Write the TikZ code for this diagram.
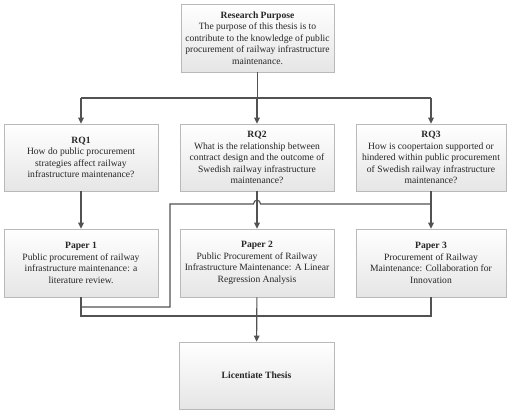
\documentclass[tikz,border=0pt]{standalone}
\usepackage{fontspec}
\setmainfont{Liberation Serif}
\usetikzlibrary{arrows.meta,shadows,calc}
\begin{document}
\begin{tikzpicture}[x=1pt,y=-1pt,
 box/.style={draw=gray!55, line width=0.6pt, top color=white, bottom color=gray!20,
   drop shadow={opacity=0.25, shadow xshift=1.2pt, shadow yshift=-1.2pt},
   align=center, font=\fontsize{9.6}{11.5}\selectfont, inner sep=2pt, text=black!85},
 conn/.style={draw=black!68, line width=1.1pt},
 arr/.style={conn, -{Triangle[width=5.5pt,length=6pt]}}]
\useasboundingbox (0,0) rectangle (515,413);
\fill[white] (0,0) rectangle (515,413);

\node[box, minimum width=153pt, minimum height=68pt] (rp) at (257.5,38)
  {\textbf{Research Purpose}\\The purpose of this thesis is to\\contribute to the knowledge of public\\procurement of railway infrastructure\\maintenance.};

\node[box, minimum width=154pt, minimum height=67pt] (rq1) at (81,157.5)
  {\textbf{RQ1}\\How do public procurement\\strategies affect railway\\infrastructure maintenance?};
\node[box, minimum width=154pt, minimum height=67pt] (rq2) at (257,157.5)
  {\textbf{RQ2}\\What is the relationship between\\contract design and the outcome of\\Swedish railway infrastructure\\maintenance?};
\node[box, minimum width=150pt, minimum height=67pt] (rq3) at (431,157.5)
  {\textbf{RQ3}\\How is coopertaion supported or\\hindered within public procurement\\of Swedish railway infrastructure\\maintenance?};

\node[box, minimum width=154pt, minimum height=68pt] (p1) at (81,263)
  {\textbf{Paper 1}\\Public procurement of railway\\infrastructure maintenance: a\\literature review.};
\node[box, minimum width=154pt, minimum height=68pt] (p2) at (257,263)
  {\textbf{Paper 2}\\Public Procurement of Railway\\Infrastructure Maintenance: A Linear\\Regression Analysis};
\node[box, minimum width=150pt, minimum height=68pt] (p3) at (431,263)
  {\textbf{Paper 3}\\Procurement of Railway\\Maintenance: Collaboration for\\Innovation};

\node[box, minimum width=155pt, minimum height=67pt] (th) at (256.5,375.5)
  {\textbf{Licentiate Thesis}};

% top bus
\coordinate (bus) at (257.5,98);
\draw[conn] (rp.south) -- (bus);
\draw[conn] (bus -| rq1.north) -- (bus -| rq3.north);
\draw[arr] (bus -| rq1.north) -- (rq1.north);
\draw[arr] (bus -| rq2.north) -- (rq2.north);
\draw[arr] (bus -| rq3.north) -- (rq3.north);

% RQ to papers
\draw[arr] (rq1) -- (p1);
\draw[arr] (rq2) -- (p2);
\draw[arr] (rq3) -- (p3);

% crossing line with hop
\coordinate (cr) at (257,204);
\coordinate (lk) at (170,204);
\coordinate (lb) at (170,307);
\draw[conn] (rq3.south |- cr) -- (260.5,204) .. controls (260.5,199) and (253.5,199) .. (253.5,204)
  -- (lk) -- (lb) -- (lb -| p1.south) -- (p1.south);

% papers to thesis
\coordinate (bb) at (257,316);
\draw[conn] (p1.south) -- (p1.south |- bb) -- (p3.south |- bb) -- (p3.south);
\draw[arr] (p2) -- (th);
\end{tikzpicture}
\end{document}
